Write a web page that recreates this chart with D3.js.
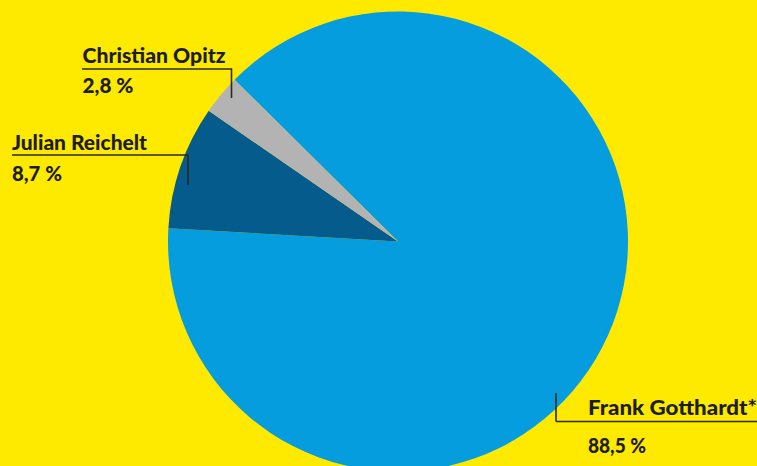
<!DOCTYPE html>
<html>
<head>
<meta charset="utf-8">
<script src="https://cdn.jsdelivr.net/npm/d3@7"></script>
<style>
  html, body { margin: 0; padding: 0; background: #FEE900; }
  svg { display: block; }
  text { font-family: Lato, "Open Sans", sans-serif; font-weight: 900; fill: #1d1d1b; }
</style>
</head>
<body>
<svg id="chart" width="757" height="466"></svg>
<script>
// Vote shares (percent)
const names = ["Frank Gotthardt*", "Julian Reichelt", "Christian Opitz"];
const shares = [88.5, 8.7, 2.8];
const shareLabels = ["88,5 %", "8,7 %", "2,8 %"];
const colors = ["#069DDE", "#045B8C", "#B3B3B3"];

const W = 757, H = 466;
const cx = 398, cy = 241.5, R = 230;

const svg = d3.select("#chart");
svg.append("rect").attr("width", W).attr("height", H).attr("fill", "#FEE900");

// Frank's slice begins at the grey/blue boundary and runs clockwise
const startDeg = -45.3;
const pie = d3.pie().sort(null).value(d => d)
  .startAngle(startDeg * Math.PI / 180)
  .endAngle(startDeg * Math.PI / 180 + 2 * Math.PI);
const arc = d3.arc().innerRadius(0).outerRadius(R);

const g = svg.append("g").attr("transform", `translate(${cx},${cy})`);
g.selectAll("path")
  .data(pie(shares))
  .join("path")
  .attr("d", arc)
  .attr("fill", (d, i) => colors[i]);

// Annotation layout: text anchor, text widths, underline and leader tick
const labelLayout = [
  { x: 588, nameY: 414.5, valY: 453, nameW: 169, valW: 58, lineX0: 556, lineX1: 757, lineY: 421.5, tickX: 556, tickY: 393 },
  { x: 12,  nameY: 150,   valY: 180.5, nameW: 135, valW: 50, lineX0: 12, lineX1: 188, lineY: 155, tickX: 188, tickY: 185 },
  { x: 82.5, nameY: 62.5, valY: 93, nameW: 143, valW: 51, lineX0: 82, lineX1: 231.5, lineY: 69, tickX: 231.5, tickY: 98 }
];

const ann = svg.append("g");
names.forEach((name, i) => {
  const L = labelLayout[i];
  ann.append("path")
    .attr("d", `M${L.lineX0},${L.lineY}H${L.lineX1}` +
      (L.tickX === L.lineX1 ? `V${L.tickY}` : `M${L.tickX},${L.lineY}V${L.tickY}`))
    .attr("fill", "none")
    .attr("stroke", "#2b2b22")
    .attr("stroke-width", 1.6);
  ann.append("text")
    .attr("x", L.x).attr("y", L.nameY)
    .attr("font-size", 20.5)
    .attr("textLength", L.nameW)
    .attr("lengthAdjust", "spacingAndGlyphs")
    .text(name);
  ann.append("text")
    .attr("x", L.x).attr("y", L.valY)
    .attr("font-size", 20.5)
    .attr("textLength", L.valW)
    .attr("lengthAdjust", "spacingAndGlyphs")
    .text(shareLabels[i]);
});
</script>
</body>
</html>
